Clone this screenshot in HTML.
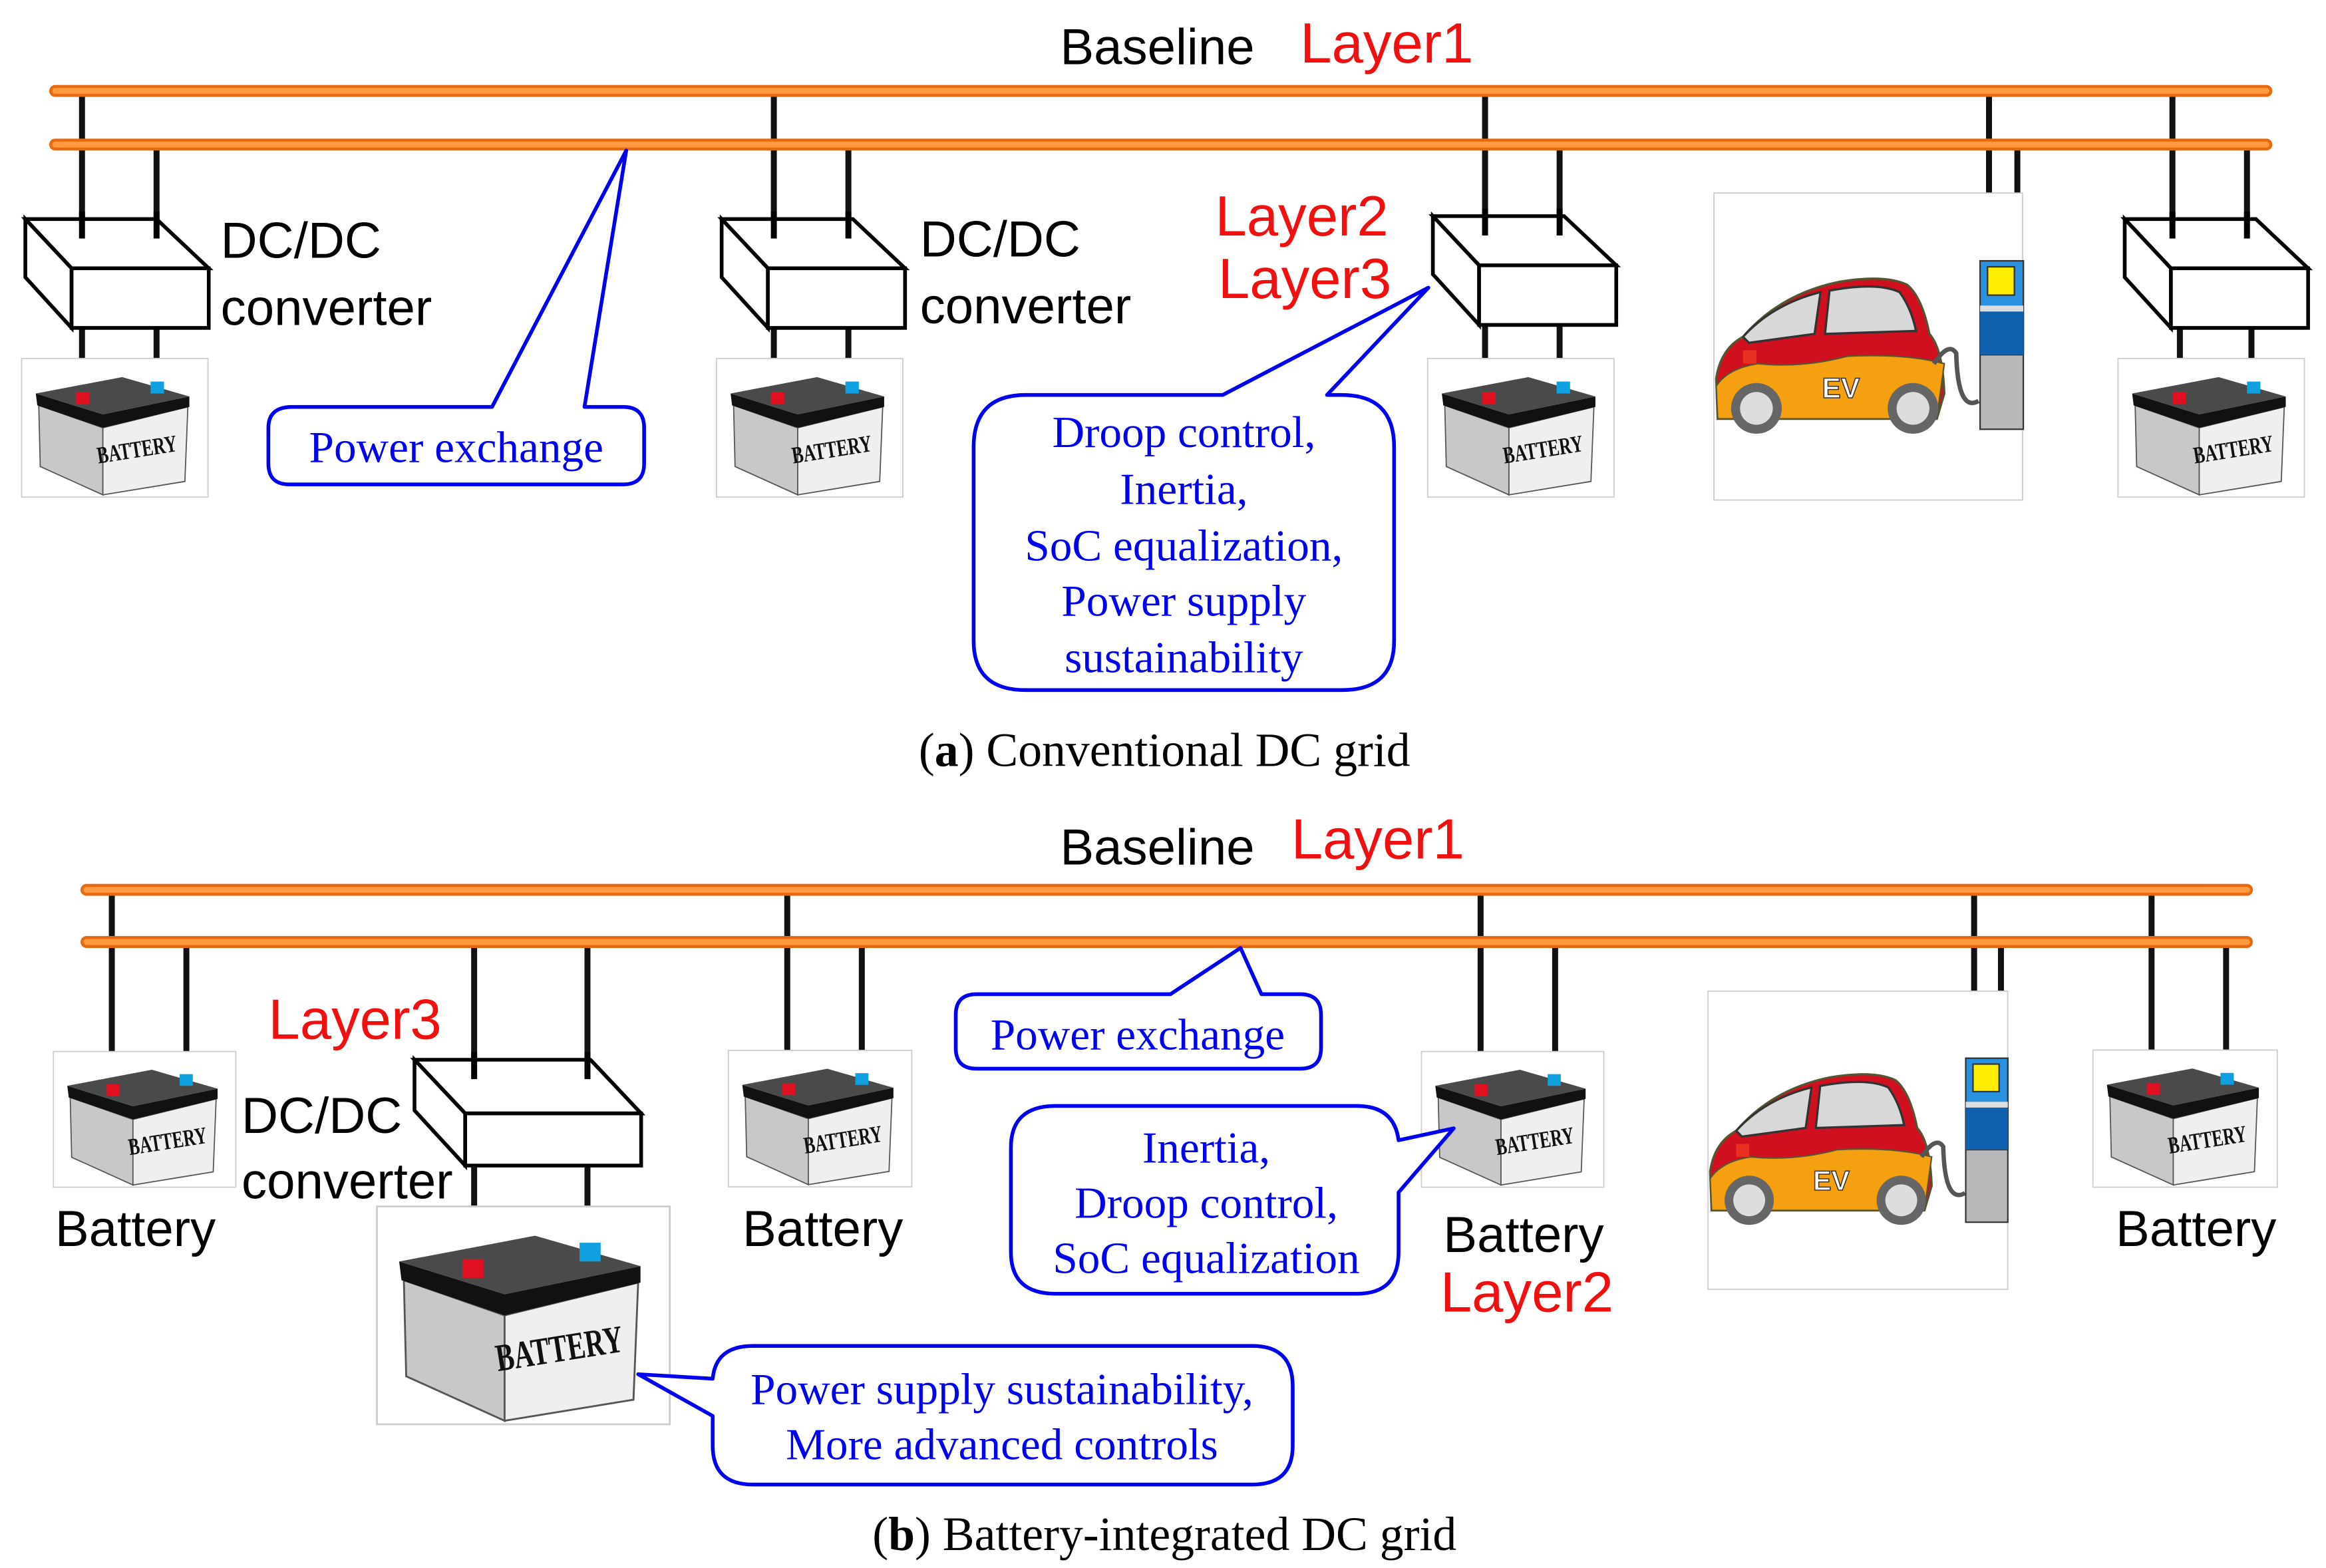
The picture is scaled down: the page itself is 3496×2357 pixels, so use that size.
<!DOCTYPE html>
<html><head><meta charset="utf-8"><style>
html,body{margin:0;padding:0;background:#fff;}
svg{display:block;}
.sans{font-family:"Liberation Sans",sans-serif;}
.serif{font-family:"Liberation Serif",serif;}
</style></head><body>
<svg width="3496" height="2357" viewBox="0 0 1560 1052" preserveAspectRatio="none" xmlns="http://www.w3.org/2000/svg">
<defs>
<symbol id="bat" viewBox="0 0 126 94" overflow="visible">
  <rect x="0.5" y="0.5" width="125" height="93" fill="#fff" stroke="#ccc" stroke-width="0.8"/>
  <polygon points="12,32 55,47 55,92 13,73" fill="#c8c8c8" stroke="#555" stroke-width="0.8"/>
  <polygon points="55,47 112,33 110,83 55,92" fill="#efefef" stroke="#555" stroke-width="0.8"/>
  <polygon points="10,24 55,38 113,26 113,33 55,47 11,32" fill="#111"/>
  <polygon points="10,24 68,13 113,26 55,38" fill="#4a4a4a"/>
  <rect x="37" y="23" width="9" height="8" fill="#e01020"/>
  <rect x="87" y="16" width="9" height="8" fill="#10a0e0"/>
</symbol>
<symbol id="ev" viewBox="0 0 208 207" overflow="visible">
  <rect x="0.5" y="0.5" width="207" height="206" fill="#fff" stroke="#ccc" stroke-width="0.8"/>
  <path d="M3,152 L2,125 Q5,105 20,97 Q45,68 85,60 Q115,55 130,62 Q140,70 145,95 Q154,105 155,135 L150,152 Z" fill="#d0101e" stroke="#553" stroke-width="1.5"/>
  <path d="M3,152 L2,130 Q10,118 30,115 Q60,118 90,110 Q130,108 155,115 L150,152 Z" fill="#f4a010" stroke="#553" stroke-width="1"/>
  <path d="M20,97 Q40,75 72,67 L68,95 L24,101 Z" fill="#d8d8d8" stroke="#333" stroke-width="1.5"/>
  <path d="M78,66 Q110,60 125,67 Q133,78 136,93 L75,95 Z" fill="#d8d8d8" stroke="#333" stroke-width="1.5"/>
  <rect x="20" y="106" width="9" height="9" fill="#e83020"/>
  <text x="73" y="138" font-family="Liberation Sans,sans-serif" font-size="19" font-weight="bold" fill="#fff" stroke="#333" stroke-width="0.7">EV</text>
  <circle cx="29" cy="145" r="17" fill="#666"/><circle cx="29" cy="145" r="11" fill="#ddd"/>
  <circle cx="134" cy="145" r="17" fill="#666"/><circle cx="134" cy="145" r="11" fill="#ddd"/>
  <path d="M148,115 Q158,100 163,108 Q164,148 178,140" fill="none" stroke="#555" stroke-width="3"/>
</symbol>
<symbol id="chg" viewBox="0 0 29 113" overflow="visible">
  <rect x="0" y="0" width="29" height="113" fill="#b8b8b8" stroke="#333" stroke-width="1"/>
  <rect x="0" y="0" width="29" height="63" fill="#2a90e0" stroke="#333" stroke-width="1"/>
  <rect x="0" y="34" width="29" height="29" fill="#1060b0"/>
  <rect x="0" y="30" width="29" height="4" fill="#ddd"/>
  <rect x="5" y="4" width="18" height="19" fill="#ffee00" stroke="#333" stroke-width="1"/>
</symbol>
</defs>

<!-- ============ TOP (a) ============ -->
<g stroke="#111" stroke-width="4" fill="none">
  <line x1="55" y1="61" x2="55" y2="160"/><line x1="105" y1="97" x2="105" y2="160"/>
  <line x1="55" y1="215" x2="55" y2="265"/><line x1="105" y1="215" x2="105" y2="262"/>
  <line x1="519" y1="61" x2="519" y2="160"/><line x1="569" y1="97" x2="569" y2="160"/>
  <line x1="519" y1="215" x2="519" y2="265"/><line x1="569" y1="215" x2="569" y2="262"/>
  <line x1="996" y1="61" x2="996" y2="160"/><line x1="1046" y1="97" x2="1046" y2="160"/>
  <line x1="996" y1="215" x2="996" y2="265"/><line x1="1046" y1="215" x2="1046" y2="262"/>
  <line x1="1334" y1="61" x2="1334" y2="176"/><line x1="1353" y1="97" x2="1353" y2="176"/>
  <line x1="1457" y1="61" x2="1457" y2="160"/><line x1="1507" y1="97" x2="1507" y2="160"/>
  <line x1="1462" y1="215" x2="1462" y2="265"/><line x1="1510" y1="215" x2="1510" y2="262"/>
</g>
<use href="#bat" x="14" y="240" width="126" height="94"/>
<use href="#bat" x="480" y="240" width="126" height="94"/>
<use href="#bat" x="957" y="240" width="126" height="94"/>
<use href="#bat" x="1420" y="240" width="126" height="94"/>
<g class="serif" font-weight="bold" font-size="16" fill="#111">
  <text transform="translate(66,311) rotate(-9)" textLength="54" lengthAdjust="spacingAndGlyphs">BATTERY</text>
  <text transform="translate(532,311) rotate(-9)" textLength="54" lengthAdjust="spacingAndGlyphs">BATTERY</text>
  <text transform="translate(1009,311) rotate(-9)" textLength="54" lengthAdjust="spacingAndGlyphs">BATTERY</text>
  <text transform="translate(1472,311) rotate(-9)" textLength="54" lengthAdjust="spacingAndGlyphs">BATTERY</text>
</g>
<use href="#ev" x="1149" y="129" width="208" height="207"/>
<use href="#chg" x="1328" y="175" width="29" height="113"/>
<!-- converters -->
<g fill="#fff" stroke="#000" stroke-width="2.5" stroke-linejoin="miter">
  <g transform="translate(17,147)"><polygon points="0,0 88,0 123,33 31,33"/><polygon points="0,0 0,39 31,73 31,33"/><rect x="31" y="33" width="92" height="40"/><line x1="38" y1="-5" x2="38" y2="13" stroke-width="4"/><line x1="88" y1="-5" x2="88" y2="13" stroke-width="4"/></g>
  <g transform="translate(484,147)"><polygon points="0,0 88,0 123,33 31,33"/><polygon points="0,0 0,39 31,73 31,33"/><rect x="31" y="33" width="92" height="40"/><line x1="35" y1="-5" x2="35" y2="13" stroke-width="4"/><line x1="85" y1="-5" x2="85" y2="13" stroke-width="4"/></g>
  <g transform="translate(961,145)"><polygon points="0,0 88,0 123,33 31,33"/><polygon points="0,0 0,39 31,73 31,33"/><rect x="31" y="33" width="92" height="40"/><line x1="35" y1="-5" x2="35" y2="13" stroke-width="4"/><line x1="85" y1="-5" x2="85" y2="13" stroke-width="4"/></g>
  <g transform="translate(1425,147)"><polygon points="0,0 88,0 123,33 31,33"/><polygon points="0,0 0,39 31,73 31,33"/><rect x="31" y="33" width="92" height="40"/><line x1="32" y1="-5" x2="32" y2="13" stroke-width="4"/><line x1="82" y1="-5" x2="82" y2="13" stroke-width="4"/></g>
</g>
<!-- buses top -->
<g stroke-linecap="round">
  <line x1="37" y1="61" x2="1520" y2="61" stroke="#e86a10" stroke-width="8"/>
  <line x1="37" y1="61" x2="1520" y2="61" stroke="#ff9a40" stroke-width="4"/>
  <line x1="37" y1="97" x2="1520" y2="97" stroke="#e86a10" stroke-width="8"/>
  <line x1="37" y1="97" x2="1520" y2="97" stroke="#ff9a40" stroke-width="4"/>
</g>
<g class="sans" font-size="34" fill="#000">
  <text x="711" y="43">Baseline</text>
  <text x="148" y="173">DC/DC</text><text x="148" y="218">converter</text>
  <text x="617" y="172">DC/DC</text><text x="617" y="217">converter</text>
</g>
<g class="sans" font-size="38" fill="#f01010">
  <text x="872" y="42">Layer1</text>
  <text x="815" y="158">Layer2</text>
  <text x="817" y="200">Layer3</text>
</g>
<!-- callouts top -->
<g fill="#fff" stroke="#0000f0" stroke-width="2.5" stroke-linejoin="round">
  <path d="M196,273 L330,273 L420,101 L392,273 L418,273 Q432,273 432,287 L432,311 Q432,325 418,325 L194,325 Q180,325 180,311 L180,287 Q180,273 196,273 Z"/>
  <path d="M688,265 L820,265 L958,193 L890,265 L900,265 Q935,265 935,300 L935,430 Q935,463 900,463 L688,463 Q653,463 653,430 L653,300 Q653,265 688,265 Z"/>
</g>
<g class="serif" font-size="30" fill="#0000f0" text-anchor="middle">
  <text x="306" y="310">Power exchange</text>
  <text x="794" y="300">Droop control,</text>
  <text x="794" y="338">Inertia,</text>
  <text x="794" y="376">SoC equalization,</text>
  <text x="794" y="413">Power supply</text>
  <text x="794" y="451">sustainability</text>
</g>
<text class="serif" x="781" y="514" font-size="32" text-anchor="middle" fill="#000">(<tspan font-weight="bold">a</tspan>) Conventional DC grid</text>

<!-- ============ BOTTOM (b) ============ -->
<g stroke="#111" stroke-width="4" fill="none">
  <line x1="75" y1="597" x2="75" y2="728"/><line x1="125" y1="632" x2="125" y2="722"/>
  <line x1="318" y1="632" x2="318" y2="724"/><line x1="394" y1="632" x2="394" y2="724"/>
  <line x1="318" y1="780" x2="318" y2="845"/><line x1="394" y1="780" x2="394" y2="835"/>
  <line x1="528" y1="597" x2="528" y2="728"/><line x1="578" y1="632" x2="578" y2="722"/>
  <line x1="993" y1="597" x2="993" y2="728"/><line x1="1043" y1="632" x2="1043" y2="722"/>
  <line x1="1324" y1="597" x2="1324" y2="712"/><line x1="1342" y1="632" x2="1342" y2="712"/>
  <line x1="1443" y1="597" x2="1443" y2="728"/><line x1="1493" y1="632" x2="1493" y2="722"/>
</g>
<use href="#bat" x="35" y="705" width="124" height="92"/>
<use href="#bat" x="488" y="704" width="124" height="93"/>
<use href="#bat" x="952" y="705" width="125" height="92"/>
<use href="#bat" x="1403" y="704" width="125" height="93"/>
<use href="#bat" x="252" y="808" width="198" height="149"/>
<g class="serif" font-weight="bold" font-size="16" fill="#111">
  <text transform="translate(87,775) rotate(-9)" textLength="53" lengthAdjust="spacingAndGlyphs">BATTERY</text>
  <text transform="translate(540,774) rotate(-9)" textLength="53" lengthAdjust="spacingAndGlyphs">BATTERY</text>
  <text transform="translate(1004,775) rotate(-9)" textLength="53" lengthAdjust="spacingAndGlyphs">BATTERY</text>
  <text transform="translate(1455,774) rotate(-9)" textLength="53" lengthAdjust="spacingAndGlyphs">BATTERY</text>
  <text transform="translate(334,920) rotate(-9)" font-size="26" textLength="86" lengthAdjust="spacingAndGlyphs">BATTERY</text>
</g>
<use href="#ev" x="1145" y="664" width="202" height="202"/>
<use href="#chg" x="1318" y="710" width="29" height="110"/>
<g fill="#fff" stroke="#000" stroke-width="2.5">
  <g transform="translate(278,711)"><polygon points="0,0 118,0 152,36 34,36"/><polygon points="0,0 0,34 34,71 34,36"/><rect x="34" y="36" width="118" height="35"/><line x1="40" y1="-5" x2="40" y2="13" stroke-width="4"/><line x1="116" y1="-5" x2="116" y2="13" stroke-width="4"/></g>
</g>
<g stroke-linecap="round">
  <line x1="58" y1="597" x2="1507" y2="597" stroke="#e86a10" stroke-width="8"/>
  <line x1="58" y1="597" x2="1507" y2="597" stroke="#ff9a40" stroke-width="4"/>
  <line x1="58" y1="632" x2="1507" y2="632" stroke="#e86a10" stroke-width="8"/>
  <line x1="58" y1="632" x2="1507" y2="632" stroke="#ff9a40" stroke-width="4"/>
</g>
<g class="sans" font-size="34" fill="#000">
  <text x="711" y="580">Baseline</text>
  <text x="162" y="760">DC/DC</text><text x="162" y="804">converter</text>
  <text x="37" y="836">Battery</text>
  <text x="498" y="836">Battery</text>
  <text x="968" y="840">Battery</text>
  <text x="1419" y="836">Battery</text>
</g>
<g class="sans" font-size="38" fill="#f01010">
  <text x="866" y="576">Layer1</text>
  <text x="180" y="697">Layer3</text>
  <text x="966" y="880">Layer2</text>
</g>
<g fill="#fff" stroke="#0000f0" stroke-width="2.5" stroke-linejoin="round">
  <path d="M655,667 L785,667 L832,636 L846,667 L872,667 Q886,667 886,681 L886,703 Q886,717 872,717 L655,717 Q641,717 641,703 L641,681 Q641,667 655,667 Z"/>
  <path d="M708,742 L910,742 Q935,742 938,765 L975,757 L938,800 L938,840 Q938,868 910,868 L708,868 Q678,868 678,840 L678,770 Q678,742 708,742 Z"/>
  <path d="M505,903 L840,903 Q867,903 867,930 L867,970 Q867,996 840,996 L505,996 Q478,996 478,970 L478,950 L428,922 L478,925 Q480,903 505,903 Z"/>
</g>
<g class="serif" font-size="30" fill="#0000f0" text-anchor="middle">
  <text x="763" y="704">Power exchange</text>
  <text x="809" y="780">Inertia,</text>
  <text x="809" y="817">Droop control,</text>
  <text x="809" y="854">SoC equalization</text>
  <text x="672" y="942">Power supply sustainability,</text>
  <text x="672" y="979">More advanced controls</text>
</g>
<text class="serif" x="781" y="1040" font-size="32" text-anchor="middle" fill="#000">(<tspan font-weight="bold">b</tspan>) Battery-integrated DC grid</text>
</svg>
</body></html>
